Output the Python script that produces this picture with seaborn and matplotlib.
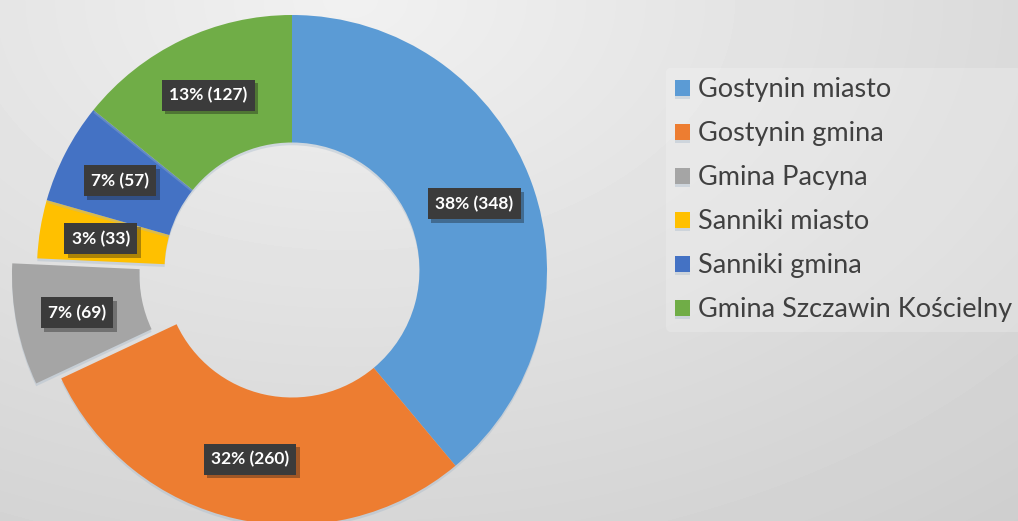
import numpy as np
import matplotlib
matplotlib.use("Agg")
import matplotlib.pyplot as plt
import matplotlib.patheffects as pe
import seaborn as sns

# data
regions = ["Gostynin miasto", "Gostynin gmina", "Gmina Pacyna",
           "Sanniki miasto", "Sanniki gmina", "Gmina Szczawin Kościelny"]
counts = [348, 260, 69, 33, 57, 127]
pct_shown = [38, 32, 7, 3, 7, 13]
colors = ["#5B9BD5", "#ED7D31", "#A5A5A5", "#FFC000", "#4472C4", "#70AD47"]
explode = [0, 0, 0.1, 0, 0, 0]

sns.set_theme(style="white")
plt.rcParams['font.family'] = ['Lato', 'DejaVu Sans']

W, H = 1018, 521
fig = plt.figure(figsize=(W / 100, H / 100), dpi=100)

# soft gradient background, lightest near the top
bg = fig.add_axes([0, 0, 1, 1])
yy, xx = np.mgrid[0:H, 0:W]
d = np.sqrt(((xx - 350) / 800) ** 2 + ((yy - 0) / 520) ** 2)
shade = np.clip(0.945 - 0.105 * d, 0.78, 1)
bg.imshow(shade, cmap="gray", vmin=0, vmax=1, extent=[0, W, H, 0], aspect="auto")
bg.axis("off")

# donut axes: centre at (292, 270) px, radius 255 px
r_px = 255
size = 2.4 * r_px
cx, cy = 292, H - 270
ax = fig.add_axes([(cx - size / 2) / W, (cy - size / 2) / H, size / W, size / H])
ax.patch.set_alpha(0)

wedges, _ = ax.pie(counts, colors=colors, explode=explode, startangle=90,
                   counterclock=False, radius=1,
                   wedgeprops=dict(width=0.5, linewidth=0))
for w in wedges:
    w.set_path_effects([pe.SimplePatchShadow(offset=(0, -2), shadow_rgbFace="#9fb4c8", alpha=0.35),
                        pe.Normal()])

# labels in the middle of the ring
for w, n, p in zip(wedges, counts, pct_shown):
    ang = np.deg2rad((w.theta1 + w.theta2) / 2)
    cxw, cyw = w.center
    x = cxw + 0.76 * np.cos(ang)
    y = cyw + 0.76 * np.sin(ang)
    t = ax.text(x, y, f"{p}% ({n})", ha="center", va="center", color="white",
                fontsize=12.5, fontweight="bold",
                bbox=dict(boxstyle="square,pad=0.42", fc="#3b3b3b", ec="none"))
    t.get_bbox_patch().set_path_effects([pe.SimplePatchShadow(offset=(2.5, -2.5), alpha=0.35),
                                         pe.Normal()])

ax.set_xlim(-1.2, 1.2)
ax.set_ylim(-1.2, 1.2)
ax.axis("off")

leg = fig.legend(wedges, regions, loc="upper left",
                 bbox_to_anchor=(666 / W, 1 - 68 / H),
                 frameon=True, fontsize=19.5, handlelength=0.55, handleheight=0.55,
                 handletextpad=0.3, labelspacing=0.7, borderpad=0.35,
                 borderaxespad=0, labelcolor="#404040")
leg.get_frame().set_facecolor("#ffffff")
leg.get_frame().set_alpha(0.2)
leg.get_frame().set_edgecolor("none")

fig.savefig("out.png", dpi=100)
